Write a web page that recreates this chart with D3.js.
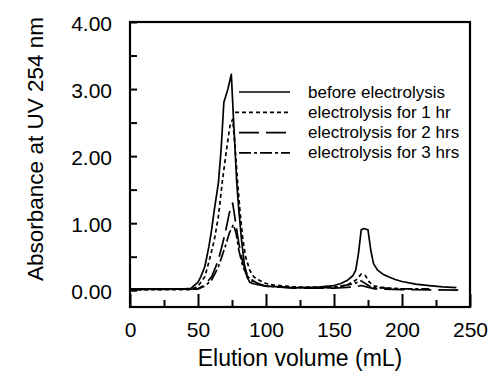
<!DOCTYPE html>
<html>
<head>
<meta charset="utf-8">
<script src="https://cdn.jsdelivr.net/npm/d3@7/dist/d3.min.js"></script>
<style>
  body { margin: 0; background: #fff; }
  svg { font-family: "Liberation Sans", Arial, sans-serif; }
</style>
</head>
<body>
<div id="chart"></div>
<script>
// elution volume (mL) / absorbance pairs for each run
let beforeVol = [0, 40, 45, 50, 52, 55, 58, 60, 62, 65, 67, 69, 72, 74.5, 76, 77, 78.5, 80, 82, 84, 86, 88, 90, 95, 100, 110, 120, 130, 140, 150, 155, 160, 164, 166, 168, 170, 172, 175, 177, 179, 182, 186, 190, 195, 200, 210, 220, 230, 240];
let beforeAbs = [0.02, 0.02, 0.03, 0.12, 0.2, 0.35, 0.65, 0.9, 1.2, 1.6, 2.1, 2.8, 3.0, 3.22, 2.6, 2.2, 1.6, 1.2, 0.75, 0.4, 0.2, 0.12, 0.1, 0.08, 0.06, 0.05, 0.04, 0.04, 0.05, 0.07, 0.1, 0.15, 0.22, 0.3, 0.55, 0.9, 0.92, 0.9, 0.6, 0.4, 0.3, 0.24, 0.2, 0.16, 0.13, 0.09, 0.07, 0.05, 0.04];

let hr1Vol = [0, 45, 50, 55, 58, 62, 65, 68, 71, 73.5, 75.5, 77, 79, 81, 83, 85, 88, 91, 95, 100, 105, 120, 140, 150, 160, 166, 170, 173, 176, 180, 190, 200, 210];
let hr1Abs = [0.01, 0.01, 0.06, 0.2, 0.42, 0.75, 1.1, 1.64, 2.1, 2.45, 2.55, 2.2, 1.64, 1.15, 0.75, 0.5, 0.3, 0.2, 0.15, 0.1, 0.08, 0.05, 0.04, 0.04, 0.08, 0.15, 0.24, 0.22, 0.12, 0.06, 0.03, 0.02, 0.02];

let hr2Vol = [0, 50, 55, 60, 65, 70, 73, 75.5, 77, 80, 83, 86, 90, 95, 100, 120, 150, 165, 170, 174, 180, 200, 245];
let hr2Abs = [0.01, 0.02, 0.08, 0.2, 0.45, 0.85, 1.15, 1.3, 1.1, 0.7, 0.4, 0.25, 0.15, 0.09, 0.06, 0.03, 0.03, 0.05, 0.07, 0.05, 0.02, 0.01, 0.0];

let hr3Vol = [0, 50, 55, 60, 65, 70, 73, 76, 78, 80, 83, 86, 90, 100, 120, 150, 165, 170, 173, 178, 200, 220];
let hr3Abs = [0.01, 0.02, 0.06, 0.15, 0.35, 0.65, 0.85, 0.98, 0.85, 0.6, 0.35, 0.22, 0.13, 0.06, 0.04, 0.04, 0.1, 0.14, 0.1, 0.04, 0.02, 0.02];

let seriesNames = ["before electrolysis", "electrolysis for 1 hr", "electrolysis for 2 hrs", "electrolysis for 3 hrs"];
let seriesDash = [null, "4,3", "20,7", "12,3,3,3"];

let xMajorTicks = [0, 50, 100, 150, 200, 250];
let xMinorTicks = [25, 75, 125, 175, 225];
let yTicks = [0, 0.5, 1, 1.5, 2, 2.5, 3, 3.5, 4];

let width = 490, height = 375;
let plotLeft = 130, plotRight = 470, plotTop = 22, plotBottom = 307;

let svg = d3.select("#chart").append("svg").attr("width", width).attr("height", height);

let x = d3.scaleLinear().domain([0, 250]).range([plotLeft, plotRight]);
let y = d3.scaleLinear().domain([-0.25, 4]).range([plotBottom, plotTop]);

// axes, ticks pointing inward
let xMinor = d3.axisBottom(x).tickValues(xMinorTicks).tickSize(-7).tickFormat("");
let xMajor = d3.axisBottom(x).tickValues(xMajorTicks).tickSize(-13).tickPadding(15).tickFormat(d3.format("d"));
let yAxis = d3.axisLeft(y).tickValues(yTicks).tickSize(-7).tickPadding(18)
  .tickFormat(function(d) { return d % 1 === 0 ? d3.format(".2f")(d) : ""; });

svg.append("g").attr("transform", "translate(0," + plotBottom + ")").call(xMinor);
svg.append("g").attr("class", "xmaj").attr("transform", "translate(0," + plotBottom + ")").call(xMajor);
svg.append("g").attr("class", "yax").attr("transform", "translate(" + plotLeft + ",0)").call(yAxis);

svg.selectAll(".domain").remove();
svg.selectAll(".tick line").attr("stroke", "#000").attr("stroke-width", 2);
svg.selectAll(".tick text").attr("fill", "#000").style("font-size", "21px");
svg.selectAll(".yax .tick text").attr("dy", "0.4em");

svg.append("rect")
  .attr("x", plotLeft).attr("y", plotTop)
  .attr("width", plotRight - plotLeft).attr("height", plotBottom - plotTop)
  .attr("fill", "none").attr("stroke", "#000").attr("stroke-width", 2.2);

// curves
let line = d3.line()
  .x(function(d) { return x(d[0]); })
  .y(function(d) { return y(d[1]); });

let curves = [
  d3.zip(beforeVol, beforeAbs),
  d3.zip(hr1Vol, hr1Abs),
  d3.zip(hr2Vol, hr2Abs),
  d3.zip(hr3Vol, hr3Abs)
];

svg.selectAll("path.curve")
  .data(curves)
  .enter().append("path")
  .attr("class", "curve")
  .attr("d", line)
  .attr("fill", "none")
  .attr("stroke", "#000")
  .attr("stroke-width", 1.7)
  .attr("stroke-linejoin", "round")
  .attr("stroke-dasharray", function(d, i) { return seriesDash[i]; });

// legend
let legend = svg.append("g");
seriesNames.forEach(function(name, i) {
  let ly = 92 + i * 20.3;
  legend.append("line")
    .attr("x1", i === 1 ? 235 : 239).attr("x2", 290)
    .attr("y1", ly).attr("y2", ly)
    .attr("stroke", "#000").attr("stroke-width", 1.7)
    .attr("stroke-dasharray", seriesDash[i]);
  legend.append("text")
    .attr("x", 308).attr("y", ly + 5.5)
    .style("font-size", "17px")
    .text(name);
});

// axis titles
svg.append("text")
  .attr("x", (plotLeft + plotRight) / 2).attr("y", 366)
  .attr("text-anchor", "middle")
  .style("font-size", "23px")
  .text("Elution volume (mL)");

svg.append("text")
  .attr("transform", "translate(43,149) rotate(-90)")
  .attr("text-anchor", "middle")
  .style("font-size", "22.5px")
  .text("Absorbance at UV 254 nm");
</script>
</body>
</html>
